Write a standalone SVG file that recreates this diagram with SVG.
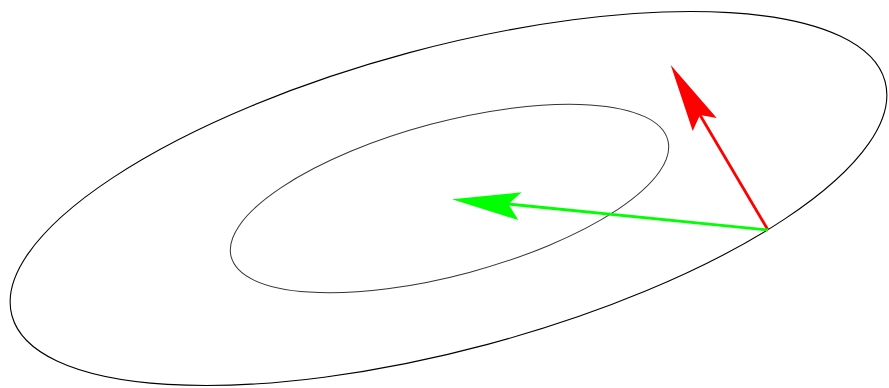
<svg xmlns="http://www.w3.org/2000/svg" width="889" height="388" viewBox="0 0 889 388">
<style>
.ell{fill:none;stroke:#000;stroke-width:1.1}
.inner{stroke:#333;stroke-width:1}
</style>
<rect width="889" height="388" fill="#fff"/>
<g id="ellipses">
<ellipse class="ell" cx="448.5" cy="198.5" rx="452" ry="151" transform="rotate(-15 448.5 198.5)"/>
<ellipse class="ell inner" cx="449.5" cy="198.5" rx="226" ry="76.5" transform="rotate(-15 449.5 198.5)"/>
</g>
<g id="arrows">
<line x1="768" y1="230" x2="700" y2="115" stroke="#ff0000" stroke-width="2.8"/>
<polygon points="670.7,65 716.7,118 700,115 692.7,131" fill="#ff0000"/>
<line x1="768" y1="230" x2="508" y2="204" stroke="#00ff00" stroke-width="2.8"/>
<polygon points="452,199.3 521.7,192.3 508.3,204 518.3,220" fill="#00ff00"/>
</g>
</svg>
